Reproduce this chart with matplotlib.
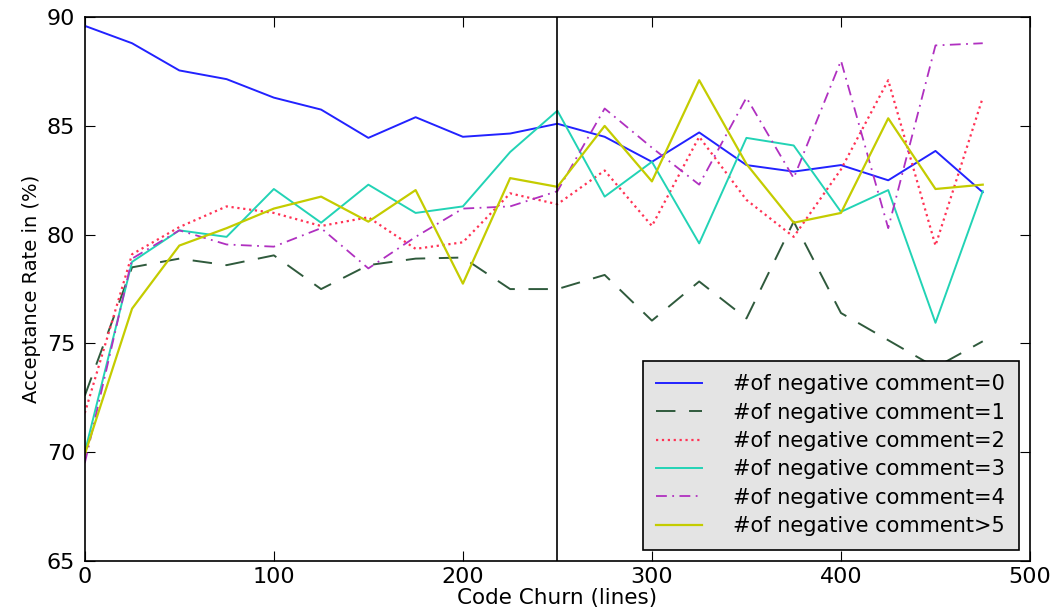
import matplotlib.pyplot as plt
import numpy as np

# code churn bins (lines)
churn = np.arange(0, 500, 25)

neg0 = [89.6, 88.8, 87.55, 87.15, 86.3, 85.75, 84.45, 85.4, 84.5, 84.65,
        85.1, 84.5, 83.35, 84.7, 83.2, 82.9, 83.2, 82.5, 83.85, 81.95]
neg1 = [72.6, 78.5, 78.9, 78.6, 79.05, 77.5, 78.6, 78.9, 78.95, 77.5,
        77.5, 78.15, 76.05, 77.85, 76.15, 80.6, 76.4, 75.15, 73.9, 75.1]
neg2 = [71.8, 79.1, 80.35, 81.3, 81.0, 80.4, 80.8, 79.35, 79.65, 81.9,
        81.4, 82.95, 80.4, 84.5, 81.6, 79.9, 83.0, 87.1, 79.5, 86.3]
neg3 = [70.0, 78.75, 80.2, 79.9, 82.1, 80.55, 82.3, 81.0, 81.3, 83.8,
        85.7, 81.75, 83.35, 79.6, 84.45, 84.1, 81.05, 82.05, 75.95, 82.0]
neg4 = [69.5, 78.9, 80.2, 79.55, 79.45, 80.3, 78.45, 79.9, 81.2, 81.3,
        82.0, 85.8, 84.0, 82.3, 86.3, 82.6, 88.0, 80.3, 88.7, 88.8]
neg5 = [69.9, 76.6, 79.5, 80.3, 81.2, 81.75, 80.6, 82.05, 77.75, 82.6,
        82.2, 85.0, 82.45, 87.1, 83.25, 80.55, 81.0, 85.35, 82.1, 82.3]

labels = ["#of negative comment=0", "#of negative comment=1",
          "#of negative comment=2", "#of negative comment=3",
          "#of negative comment=4", "#of negative comment>5"]

fig = plt.figure(figsize=(10.6, 6.12), dpi=100)
ax = fig.add_axes([0.080, 0.0833, 0.8917, 0.8887])

ax.plot(churn, neg0, color='#2222ff', lw=1.4, label=labels[0])
ax.plot(churn, neg1, color='#2f5a3c', lw=1.4, dashes=(10, 7), label=labels[1])
ax.plot(churn, neg2, color='#ff3355', lw=1.6, linestyle=':', label=labels[2])
ax.plot(churn, neg3, color='#22d3b5', lw=1.4, label=labels[3])
ax.plot(churn, neg4, color='#b030c0', lw=1.3, dashes=(6, 3, 1, 3), label=labels[4])
ax.plot(churn, neg5, color='#c4cc00', lw=1.6, label=labels[5])

ax.axvline(250, color='black', lw=1.2)

ax.set_xlim(0, 500)
ax.set_ylim(65, 90)
ax.set_xticks(range(0, 501, 100))
ax.set_yticks(range(65, 91, 5))
ax.tick_params(direction='in', top=True, right=True, length=7, labelsize=16)
ax.tick_params(axis='x', pad=4)
ax.tick_params(axis='y', pad=7)
for s in ax.spines.values():
    s.set_linewidth(1.2)

ax.set_xlabel("Code Churn (lines)", fontsize=15.5, labelpad=1)
ax.set_ylabel("Acceptance Rate in (%)", fontsize=14, labelpad=4)

leg = ax.legend(loc='lower right', fontsize=15, labelspacing=0.4,
                handlelength=2.2, handletextpad=1.5, borderpad=0.65,
                borderaxespad=0.55, fancybox=False, framealpha=1)
leg.get_frame().set_facecolor('#e4e4e4')
leg.get_frame().set_edgecolor('black')
leg.get_frame().set_linewidth(1.2)

fig.savefig("out.png", dpi=100)
